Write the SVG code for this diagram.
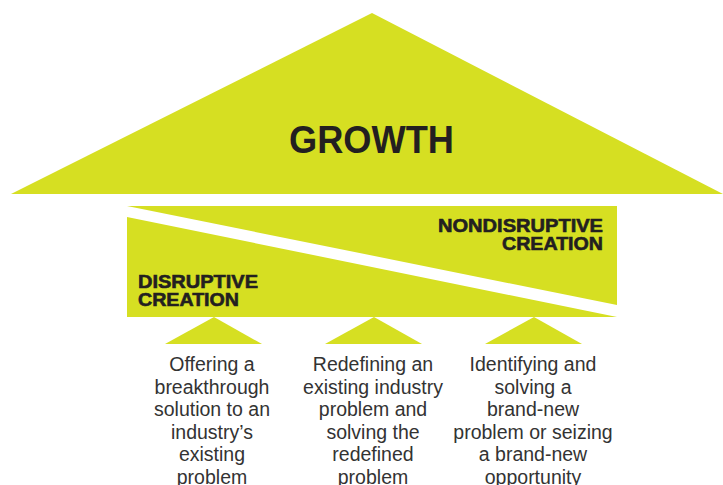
<svg xmlns="http://www.w3.org/2000/svg" width="723" height="485" viewBox="0 0 723 485">
<style>
.g{fill:#D6DF22}
.h{font-family:"Liberation Sans",Arial,sans-serif;font-weight:bold;fill:#231F20}
.k{stroke:#231F20;stroke-width:0.6}
.b{font-family:"Liberation Sans",Arial,sans-serif;font-size:19.5px;fill:#333;text-anchor:middle}
</style>
<g id="growth">
<polygon class="g" points="372,13 11,194 723,194"/>
<text class="h" x="371.5" y="153" font-size="38" text-anchor="middle" textLength="165" lengthAdjust="spacingAndGlyphs">GROWTH</text>
</g>
<g id="nondisruptive">
<polygon class="g" points="127,206 617,206 617,305"/>
<text class="h k" font-size="18.5" text-anchor="end"><tspan x="603" y="232" textLength="165" lengthAdjust="spacingAndGlyphs">NONDISRUPTIVE</tspan><tspan x="603" y="250" textLength="101" lengthAdjust="spacingAndGlyphs">CREATION</tspan></text>
</g>
<g id="disruptive">
<polygon class="g" points="127,217 617,317 127,317"/>
<text class="h k" font-size="18.5" text-anchor="start"><tspan x="138" y="288" textLength="120" lengthAdjust="spacingAndGlyphs">DISRUPTIVE</tspan><tspan x="138" y="306" textLength="101" lengthAdjust="spacingAndGlyphs">CREATION</tspan></text>
</g>
<g id="connectors">
<polygon class="g" points="214,317 165,344 262,344"/>
<polygon class="g" points="374,317 325,344 422,344"/>
<polygon class="g" points="534,317 485,344 582,344"/>
</g>
<g id="col1">
<text class="b"><tspan x="212" y="371">Offering a</tspan><tspan x="212" y="393.5">breakthrough</tspan><tspan x="212" y="416">solution to an</tspan><tspan x="212" y="438.5">industry’s</tspan><tspan x="212" y="461">existing</tspan><tspan x="212" y="483.5">problem</tspan></text>
</g>
<g id="col2">
<text class="b"><tspan x="373" y="371">Redefining an</tspan><tspan x="373" y="393.5">existing industry</tspan><tspan x="373" y="416">problem and</tspan><tspan x="373" y="438.5">solving the</tspan><tspan x="373" y="461">redefined</tspan><tspan x="373" y="483.5">problem</tspan></text>
</g>
<g id="col3">
<text class="b"><tspan x="533" y="371">Identifying and</tspan><tspan x="533" y="393.5">solving a</tspan><tspan x="533" y="416">brand-new</tspan><tspan x="533" y="438.5">problem or seizing</tspan><tspan x="533" y="461">a brand-new</tspan><tspan x="533" y="483.5">opportunity</tspan></text>
</g>
</svg>
